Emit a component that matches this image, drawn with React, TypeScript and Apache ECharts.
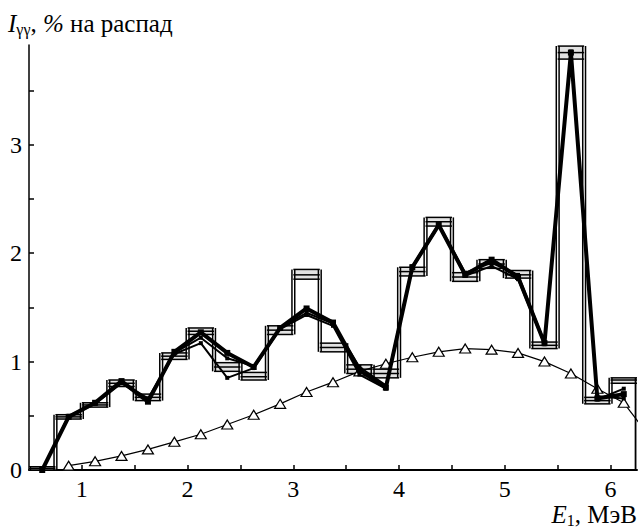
import React, { useEffect, useRef } from "react";
import * as echarts from "echarts";

// Bin centres (MeV), bin width 0.25
const binCenters = [0.625, 0.875, 1.125, 1.375, 1.625, 1.875, 2.125, 2.375, 2.625, 2.875, 3.125, 3.375, 3.625, 3.875, 4.125, 4.375, 4.625, 4.875, 5.125, 5.375, 5.625, 5.875, 6.125];
// Histogram top lines (three variants)
const histHigh = [0.03, 0.51, 0.62, 0.83, 0.70, 1.08, 1.31, 0.99, 0.90, 1.33, 1.85, 1.17, 0.97, 0.93, 1.87, 2.33, 1.82, 1.94, 1.84, 1.18, 3.91, 0.67, 0.85];
const histMid = [0.015, 0.49, 0.60, 0.80, 0.67, 1.05, 1.28, 0.95, 0.86, 1.29, 1.80, 1.13, 0.93, 0.89, 1.83, 2.29, 1.78, 1.90, 1.80, 1.15, 3.85, 0.64, 0.83];
const histLow = [0.0, 0.47, 0.58, 0.77, 0.64, 1.02, 1.25, 0.91, 0.83, 1.25, 1.76, 1.09, 0.89, 0.85, 1.79, 2.25, 1.74, 1.86, 1.77, 1.12, 3.79, 0.61, 0.80];
// Thick lines (several calculation variants)
const fitMain = [0.0, 0.49, 0.62, 0.82, 0.63, 1.09, 1.27, 1.08, 0.95, 1.31, 1.49, 1.36, 0.92, 0.76, 1.87, 2.26, 1.80, 1.94, 1.78, 1.17, 3.85, 0.66, 0.70];
const fitAltA = [0.0, 0.49, 0.61, 0.80, 0.64, 1.07, 1.17, 0.85, 0.94, 1.30, 1.43, 1.33, 0.88, 0.75, 1.86, 2.25, 1.79, 1.88, 1.76, 1.16, 3.84, 0.65, 0.75];
const fitAltB = [0.0, 0.50, 0.62, 0.81, 0.66, 1.08, 1.22, 1.03, 0.96, 1.31, 1.45, 1.35, 0.95, 0.78, 1.88, 2.27, 1.82, 1.91, 1.80, 1.18, 3.86, 0.68, 0.66];
// Thin curve with triangles
const calcX = [0.875, 1.125, 1.375, 1.625, 1.875, 2.125, 2.375, 2.625, 2.875, 3.125, 3.375, 3.625, 3.875, 4.125, 4.375, 4.625, 4.875, 5.125, 5.375, 5.625, 5.875, 6.125, 6.375];
const calcY = [0.04, 0.08, 0.13, 0.19, 0.26, 0.33, 0.42, 0.51, 0.61, 0.72, 0.81, 0.91, 0.98, 1.04, 1.09, 1.12, 1.11, 1.08, 1.00, 0.89, 0.75, 0.62, 0.30];

const xTicks = [1, 1.5, 2, 2.5, 3, 3.5, 4, 4.5, 5, 5.5, 6];
const xLabels = [1, 2, 3, 4, 5, 6];
const yTicks = [0.5, 1, 1.5, 2, 2.5, 3, 3.5];
const yLabels = [0, 1, 2, 3];

const FONT = "Liberation Serif";

export default function App() {
  const ref = useRef<HTMLDivElement>(null);
  useEffect(() => {
    if (!ref.current) return;
    const chart = echarts.init(ref.current, undefined, { renderer: "svg" });
    const half = 0.125;
    const histData = binCenters.map((c, i) => [i, c, histHigh[i], histLow[i]]);

    const renderHist = (params: any, api: any) => {
      const i = api.value(0) as number;
      const c = binCenters[i];
      const L = api.coord([c - half, 0])[0];
      const R = api.coord([c + half, 0])[0];
      const yH = api.coord([c, histHigh[i]])[1];
      const yM = api.coord([c, histMid[i]])[1];
      const yLo = api.coord([c, histLow[i]])[1];
      const y0 = api.coord([c, 0])[1];
      const ls = { stroke: "#000", lineWidth: 1.5 };
      const children: any[] = [
        { type: "rect", shape: { x: L, y: yH, width: R - L, height: yLo - yH }, style: { fill: "#e2e2e2" } },
        { type: "line", shape: { x1: L, y1: yH, x2: R, y2: yH }, style: ls },
        { type: "line", shape: { x1: L, y1: yM, x2: R, y2: yM }, style: ls },
        { type: "line", shape: { x1: L, y1: yLo, x2: R, y2: yLo }, style: ls },
      ];
      const prevHi = i > 0 ? histHigh[i - 1] : 0;
      const prevLo = i > 0 ? histLow[i - 1] : 0;
      const top = api.coord([c, Math.max(prevHi, histHigh[i])])[1];
      const bot = api.coord([c, Math.min(prevLo, histLow[i])])[1];
      children.push({ type: "line", shape: { x1: L - 1.4, y1: top, x2: L - 1.4, y2: bot }, style: ls });
      children.push({ type: "line", shape: { x1: L + 1.4, y1: top, x2: L + 1.4, y2: bot }, style: ls });
      if (i === binCenters.length - 1) {
        children.push({ type: "line", shape: { x1: R - 1.6, y1: yH, x2: R - 1.6, y2: y0 }, style: ls });
        children.push({ type: "line", shape: { x1: R + 0.4, y1: yH, x2: R + 0.4, y2: y0 }, style: ls });
      }
      return { type: "group", children };
    };

    const thickLine = (name: string, vals: number[], width: number, sym: number, z: number) => ({
      name,
      type: "line",
      data: binCenters.map((c, i) => [c, vals[i]]),
      lineStyle: { color: "#000", width },
      itemStyle: { color: "#000" },
      symbol: "rect",
      symbolSize: sym,
      showSymbol: true,
      z,
      silent: true,
    });

    const rich = {
      i: { fontFamily: FONT, fontSize: 25, fontStyle: "italic", fill: "#000", lineHeight: 28 },
      n: { fontFamily: FONT, fontSize: 25, fill: "#000", lineHeight: 28 },
      s: { fontFamily: FONT, fontSize: 16, fill: "#000", lineHeight: 16, padding: [12, 0, 0, 0] },
    };

    chart.setOption({
      animation: false,
      textStyle: { fontFamily: FONT },
      grid: { left: 29, right: 1, top: 45, bottom: 60, containLabel: false },
      xAxis: {
        type: "value",
        min: 0.5,
        max: 6.25,
        splitLine: { show: false },
        axisLine: { show: true, onZero: false, lineStyle: { color: "#000", width: 2 } },
        axisTick: { show: true, inside: true, length: 5, customValues: xTicks, lineStyle: { color: "#000", width: 1.5 } },
        axisLabel: { customValues: xLabels, color: "#000", fontFamily: FONT, fontSize: 24, margin: 7 },
      },
      yAxis: {
        type: "value",
        min: 0,
        max: 3.92,
        splitLine: { show: false },
        axisLine: { show: true, lineStyle: { color: "#000", width: 1.5 } },
        axisTick: { show: true, inside: true, length: 5, customValues: yTicks, lineStyle: { color: "#000", width: 1.5 } },
        axisLabel: { customValues: yLabels, color: "#000", fontFamily: FONT, fontSize: 24, margin: 7 },
      },
      graphic: [
        {
          type: "text",
          left: 8,
          top: 9,
          style: { text: "{i|I}{s|γγ}{n|, }{i|%}{n| на распад}", fontFamily: FONT, fontSize: 25, fill: "#000", rich },
        },
        {
          type: "text",
          right: 1,
          top: 500,
          style: { text: "{i|E}{s|1}{n|, МэВ}", fontFamily: FONT, fontSize: 25, fill: "#000", rich },
        },
      ],
      series: [
        {
          name: "hist",
          type: "custom",
          renderItem: renderHist,
          data: histData,
          encode: { x: 1, y: [2, 3] },
          clip: true,
          z: 1,
          silent: true,
        },
        {
          name: "calc",
          type: "line",
          data: calcX.map((x, i) => [x, calcY[i]]),
          lineStyle: { color: "#000", width: 1.2 },
          itemStyle: { color: "#fff", borderColor: "#000", borderWidth: 1.2 },
          symbol: "triangle",
          symbolSize: [11, 9],
          showSymbol: true,
          clip: true,
          z: 3,
          silent: true,
        },
        thickLine("altA", fitAltA, 2, 4, 4),
        thickLine("altB", fitAltB, 2, 4, 4),
        thickLine("main", fitMain, 4, 6, 5),
      ],
    });
    return () => chart.dispose();
  }, []);
  return <div ref={ref} style={{ width: 638, height: 530, position: "absolute", left: 0, top: 0 }} />;
}
